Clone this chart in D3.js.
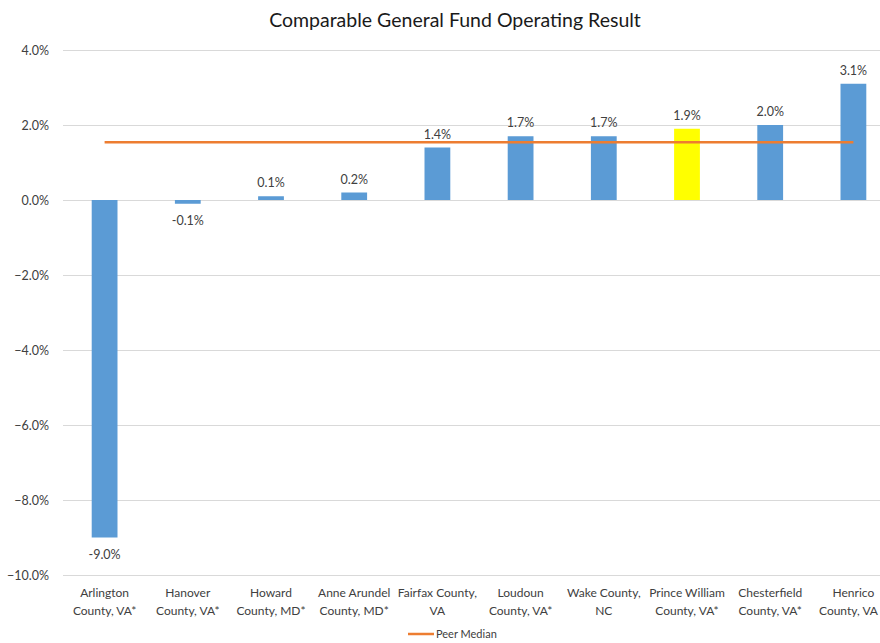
<!DOCTYPE html>
<html><head><meta charset="utf-8">
<script src="https://cdn.jsdelivr.net/npm/d3@7"></script>
<style>body{margin:0;background:#fff;} svg{display:block;}</style>
</head><body>
<svg id="chart" width="880" height="643"></svg>
<script>
const categories = [
  ["Arlington","County, VA*"],
  ["Hanover","County, VA*"],
  ["Howard","County, MD*"],
  ["Anne Arundel","County, MD*"],
  ["Fairfax County,","VA"],
  ["Loudoun","County, VA*"],
  ["Wake County,","NC"],
  ["Prince William","County, VA*"],
  ["Chesterfield","County, VA*"],
  ["Henrico","County, VA"]
];
const values = [-9.0, -0.1, 0.1, 0.2, 1.4, 1.7, 1.7, 1.9, 2.0, 3.1];
const valueLabels = ["-9.0%","-0.1%","0.1%","0.2%","1.4%","1.7%","1.7%","1.9%","2.0%","3.1%"];
const highlight = "Prince William";
const peerMedian = 1.54;
const yTicks = [-10, -8, -6, -4, -2, 0, 2, 4];
const title = "Comparable General Fund Operating Result";
const legendLabel = "Peer Median";

const font = "Lato, 'Open Sans', sans-serif";
const svg = d3.select("#chart");
const x = d3.scaleBand().domain(d3.range(categories.length)).range([63, 895]).paddingInner(0.69).paddingOuter(0.345);
const y = d3.scaleLinear().domain([-10, 4]).range([575, 50]);

svg.append("text").attr("x", 455).attr("y", 27).attr("text-anchor","middle")
  .attr("font-family", font).attr("font-size", 19.5).attr("fill","#1a1a1a").text(title);

// gridlines
const yAxis = d3.axisLeft(y).tickValues(yTicks).tickFormat(d => d3.format(".1f")(d) + "%").tickSize(-(895-63)).tickPadding(14);
const gy = svg.append("g").attr("transform","translate(63,0)").call(yAxis);
gy.select(".domain").remove();
gy.selectAll(".tick line").attr("stroke","#d9d9d9").attr("stroke-width",1);
gy.selectAll(".tick text").attr("font-family", font).attr("font-size", 12.5).attr("fill","#404040");

// bars
svg.append("g").selectAll("rect").data(values).join("rect")
  .attr("x", (d,i) => x(i))
  .attr("width", x.bandwidth())
  .attr("y", d => y(Math.max(0,d)))
  .attr("height", d => Math.abs(y(d) - y(0)))
  .attr("fill", (d,i) => categories[i][0] === highlight ? "#FFFF00" : "#5B9BD5");

// value labels
svg.append("g").selectAll("text").data(values).join("text")
  .attr("x", (d,i) => x(i) + x.bandwidth()/2)
  .attr("y", d => d >= 0 ? y(d) - 9 : y(d) + 21)
  .attr("text-anchor","middle").attr("font-family", font).attr("font-size", 12.5).attr("fill","#404040")
  .text((d,i) => valueLabels[i]);

// median line
svg.append("line")
  .attr("x1", x(0) + x.bandwidth()/2).attr("x2", x(categories.length-1) + x.bandwidth()/2)
  .attr("y1", y(peerMedian)).attr("y2", y(peerMedian))
  .attr("stroke","#ED7D31").attr("stroke-width",2.5);

// category labels
const cg = svg.append("g").selectAll("text").data(categories).join("text")
  .attr("text-anchor","middle").attr("font-family", font).attr("font-size", 12).attr("fill","#404040");
cg.each(function(d,i){
  const cx = x(i) + x.bandwidth()/2;
  const ts = d3.select(this).selectAll("tspan").data(d).join("tspan")
    .attr("x", cx).attr("y", (t,j) => 597 + j*18).text(t => t);
  ts.each(function(){
    const w = this.getComputedTextLength();
    if (cx + w/2 > 878) d3.select(this).attr("x", 878 - w/2);
  });
});

// legend
svg.append("line").attr("x1",408).attr("x2",434).attr("y1",634).attr("y2",634)
  .attr("stroke","#ED7D31").attr("stroke-width",2.5);
svg.append("text").attr("x",436).attr("y",638).attr("font-family", font).attr("font-size", 11).attr("fill","#404040").text(legendLabel);
</script>
</body></html>
